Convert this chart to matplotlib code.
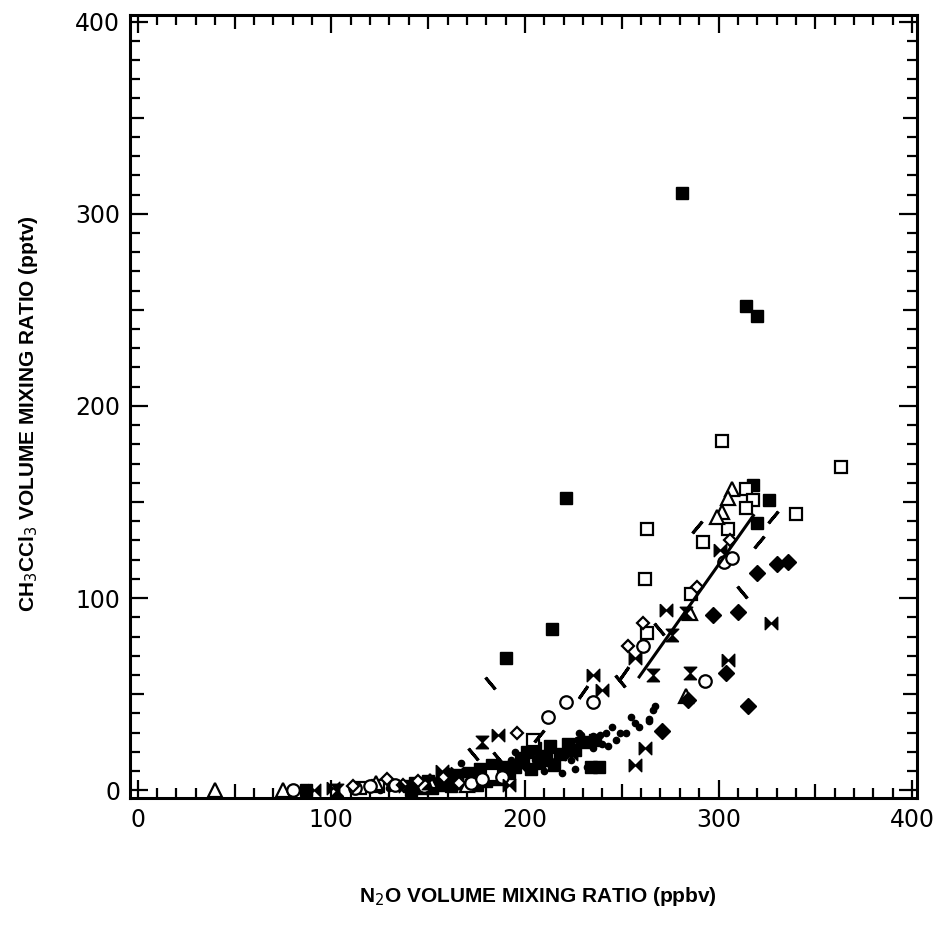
import numpy as np
import matplotlib.pyplot as plt
from matplotlib.ticker import MultipleLocator, FuncFormatter

# N2O (ppbv) vs CH3CCl3 (pptv)
# filled squares
sqf_x = [281, 314, 320, 221, 214, 190, 318, 326, 320, 234, 238, 87, 140, 143, 146, 141,
         150, 158, 164, 171, 177, 183, 188, 198, 201, 205, 209, 213, 218, 222, 226, 231, 236,
         195, 199, 203, 207, 211, 215, 192, 186, 180, 175, 168, 162, 156, 152, 147]
sqf_y = [311, 252, 247, 152, 84, 69, 159, 151, 139, 12, 12, 0, 2, 4, 3, 0,
         5, 5, 8, 9, 11, 13, 12, 17, 20, 22, 18, 23, 19, 24, 21, 25, 26,
         12, 15, 11, 14, 16, 13, 9, 6, 5, 3, 4, 2, 3, 1, 1]
# open squares
sqo_x = [302, 363, 340, 263, 262, 292, 305, 314, 318, 314, 286, 263, 204, 115, 124, 168, 183]
sqo_y = [182, 168, 144, 136, 110, 129, 136, 157, 151, 147, 102, 82, 26, 1, 2, 4, 8]
# open triangles
tri_x = [307, 305, 302, 299, 285, 283, 40, 75, 123, 151, 170]
tri_y = [157, 152, 145, 142, 92, 49, 0, 0, 4, 5, 3]
# open circles
cir_x = [212, 221, 235, 261, 293, 303, 307, 172, 178, 112, 120, 80, 133, 148, 188]
cir_y = [38, 46, 46, 75, 57, 119, 121, 4, 6, 1, 2, 0, 3, 2, 7]
# small open diamonds
dia_x = [196, 129, 145, 111, 261, 253, 289, 306, 158, 137, 166]
dia_y = [30, 6, 5, 2, 87, 75, 106, 130, 7, 3, 4]
# filled diamonds
dif_x = [336, 330, 320, 310, 297, 304, 271, 315, 284]
dif_y = [119, 118, 113, 93, 91, 61, 31, 44, 47]
# bowties (horizontal) and hourglasses (vertical)
bh_x = [273, 327, 235, 240, 257, 305, 262, 257, 157, 192, 186, 91, 101, 301, 165, 197, 210, 224, 138]
bh_y = [94, 87, 60, 52, 69, 68, 22, 13, 10, 3, 29, 0, 1, 125, 9, 13, 18, 19, 2]
bv_x = [276, 266, 285, 178, 283, 103, 150, 205]
bv_y = [81, 60, 61, 25, 92, 0, 4, 15]
# small dots
dot_x = [167, 229, 235, 239, 243, 235, 255, 259, 266, 245, 249, 224, 219, 210, 216, 222,
         214, 227, 228, 264, 267, 252, 240, 232, 200, 205, 195, 190, 185, 180, 175, 170,
         160, 150, 145, 130, 125, 138, 155, 247, 257, 264, 242, 212, 226, 203, 193]
dot_y = [14, 29, 28, 29, 23, 22, 38, 33, 42, 33, 30, 16, 9, 10, 16, 22,
         21, 26, 30, 37, 44, 30, 24, 12, 13, 16, 20, 9, 8, 12, 6, 7,
         10, 4, 2, 1, 0, 1, 6, 26, 35, 36, 30, 14, 11, 11, 16]
# short slanted dash symbols (angle of the stroke from vertical, degrees)
dash_x = [182, 173, 186, 207, 230, 251, 249, 269, 289, 328, 321, 312]
dash_y = [56, 19, 17, 28, 51, 61, 57, 84, 137, 142, 129, 103]
dash_a = [40, 40, 40, -40, -35, -35, 40, 40, -40, -40, -40, 40]
# solid fit line
fit_x = [259, 318]
fit_y = [59, 143]

bow_h = [(-1, 1), (0, 0), (1, 1), (1, -1), (0, 0), (-1, -1), (-1, 1)]
bow_v = [(y, x) for x, y in bow_h]

fig = plt.figure(figsize=(9.38, 9.39), dpi=100)
ax = fig.add_axes([0.1386, 0.1502, 0.839, 0.834])

k = 'black'
ax.plot(dot_x, dot_y, 'o', color=k, ms=4.5, ls='none')
ax.plot(sqf_x, sqf_y, 's', color=k, ms=9, ls='none')
ax.plot(sqo_x, sqo_y, 's', mfc='white', mec=k, mew=1.6, ms=9, ls='none')
ax.plot(tri_x, tri_y, '^', mfc='white', mec=k, mew=1.6, ms=10, ls='none')
ax.plot(cir_x, cir_y, 'o', mfc='white', mec=k, mew=1.6, ms=9, ls='none')
ax.plot(dia_x, dia_y, 'D', mfc='white', mec=k, mew=1.6, ms=6.5, ls='none')
ax.plot(dif_x, dif_y, 'D', color=k, ms=8, ls='none')
ax.plot(bh_x, bh_y, marker=bow_h, color=k, ms=9, ls='none')
ax.plot(bv_x, bv_y, marker=bow_v, color=k, ms=9, ls='none')
for x, y, a in zip(dash_x, dash_y, dash_a):
    ax.plot([x], [y], marker=(2, 2, a), color=k, ms=11, mew=2.2, ls='none')
ax.plot(fit_x, fit_y, '-', color=k, lw=2.2)

ax.set_xlim(-4, 402.5)
ax.set_ylim(-4, 403.5)
for axis in (ax.xaxis, ax.yaxis):
    axis.set_major_locator(MultipleLocator(50))
    axis.set_minor_locator(MultipleLocator(10))
    axis.set_major_formatter(FuncFormatter(lambda v, p: '%d' % v if v % 100 == 0 else ''))
ax.tick_params(which='both', direction='in', top=True, right=True, width=1.6, color=k)
ax.tick_params(which='major', length=13, labelsize=17)
ax.tick_params(which='minor', length=7)
ax.tick_params(axis='x', pad=7)
ax.tick_params(axis='y', pad=7)
for s in ax.spines.values():
    s.set_linewidth(2.2)

fig.canvas.draw()
# half-way ticks (50, 150, ...) a bit shorter than the labelled ones
for axis in (ax.xaxis, ax.yaxis):
    for t in axis.get_major_ticks():
        if t.get_loc() % 100 != 0:
            t.tick1line.set_markersize(10)
            t.tick2line.set_markersize(10)

fig.text(0.573, 0.045, 'N$_2$O VOLUME MIXING RATIO (ppbv)', ha='center', va='center',
         fontsize=15, fontweight='bold', family='Liberation Sans')
fig.text(0.030, 0.56, 'CH$_3$CCl$_3$ VOLUME MIXING RATIO (pptv)', ha='center', va='center',
         rotation=90, fontsize=15, fontweight='bold', family='Liberation Sans')

fig.savefig('out.png', dpi=100)
